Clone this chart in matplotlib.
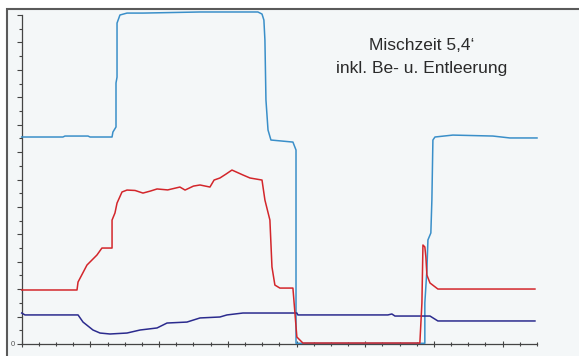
import matplotlib
matplotlib.use("Agg")
import matplotlib.pyplot as plt
from matplotlib.patches import Rectangle

plt.rcParams['font.family'] = ['Liberation Sans', 'DejaVu Sans']

# Time axis (minutes) and measured curves
leistung_t = [0.00, 2.40, 2.52, 3.86, 3.98, 5.26, 5.31, 5.49, 5.49, 5.55, 5.55, 5.55,
              5.72, 6.13, 7.06, 10.38, 13.75, 13.99, 14.10, 14.16, 14.22, 14.34,
              14.51, 15.79, 15.97, 15.97, 23.47, 23.47, 23.59, 23.65, 23.82, 23.88,
              23.94, 24.06, 25.10, 27.43, 28.42, 30.00]
leistung_v = [15.10, 15.10, 15.17, 15.17, 15.10, 15.10, 15.46, 15.83, 19.04, 19.47,
              19.77, 23.41, 24.00, 24.14, 24.14, 24.22, 24.22, 24.07, 23.63, 22.17,
              17.80, 15.61, 14.88, 14.73, 14.15, 0.05, 0.05, 2.99, 5.40, 7.59, 8.10,
              10.50, 14.88, 15.10, 15.24, 15.17, 15.03, 15.03]

strom_t = [0.00, 3.22, 3.28, 3.80, 4.38, 4.67, 5.26, 5.26, 5.43, 5.55, 5.84, 6.13,
           6.60, 7.06, 7.50, 7.88, 8.50, 9.21, 9.51, 10.00, 10.38, 10.96, 11.20,
           11.54, 11.90, 12.24, 12.88, 13.29, 13.99, 14.16, 14.45, 14.57, 14.74,
           15.03, 15.79, 16.02, 16.37, 23.18, 23.30, 23.36, 23.47, 23.53, 23.59,
           23.77, 24.23, 29.88]
strom_v = [3.94, 3.94, 4.52, 5.76, 6.49, 7.00, 7.00, 9.04, 9.56, 10.28, 11.09, 11.23,
           11.20, 11.01, 11.16, 11.31, 11.24, 11.45, 11.23, 11.52, 11.60, 11.45,
           11.96, 12.11, 12.40, 12.69, 12.33, 12.11, 11.96, 10.50, 9.04, 5.62,
           4.30, 4.08, 4.08, 0.51, 0.07, 0.07, 2.99, 7.22, 7.08, 6.35, 5.03, 4.45,
           4.01, 4.01]

temp_t = [0.00, 0.19, 3.28, 3.57, 4.15, 4.56, 5.14, 6.13, 6.89, 7.88, 8.46, 9.62,
          10.38, 11.54, 11.95, 12.88, 16.02, 16.08, 21.32, 21.55, 21.73, 23.77,
          24.23, 29.88]
temp_v = [2.26, 2.12, 2.12, 1.60, 1.02, 0.80, 0.73, 0.80, 1.02, 1.17, 1.53, 1.60,
          1.90, 1.97, 2.12, 2.26, 2.26, 2.12, 2.12, 2.19, 2.04, 2.04, 1.68, 1.68]

annotation = "Mischzeit 5,4\u2018\ninkl. Be- u. Entleerung"

W, H = 579, 356
fig = plt.figure(figsize=(W / 100, H / 100), dpi=100)
fig.patch.set_facecolor('white')

# Panel background with frame on left/top
fig.patches.append(Rectangle((7 / W, -0.01), 1.0, (H - 9) / H + 0.01,
                             transform=fig.transFigure, facecolor='#f4f7f8',
                             edgecolor='#5a5a5a', linewidth=1.5, zorder=-5))

x0, x1 = 21.7, 537.0
y0, y1 = 344.0, 15.0
ax = fig.add_axes([x0 / W, (H - y0) / H, (x1 - x0) / W, (y0 - y1) / H])
ax.set_zorder(2)
ax.set_facecolor('none')
ax.set_xlim(0, 30)
ax.set_ylim(0, 24)

ax.plot(leistung_t, leistung_v, color='#3a8fc9', lw=1.1, clip_on=False, zorder=3)
ax.plot(temp_t, temp_v, color='#2b2b8e', lw=1.1, clip_on=False, zorder=4)
ax.plot(strom_t, strom_v, color='#d3262b', lw=1.1, clip_on=False, zorder=5)

for s in ('top', 'right'):
    ax.spines[s].set_visible(False)
for s in ('left', 'bottom'):
    ax.spines[s].set_color('#444444')
    ax.spines[s].set_linewidth(0.9)

ax.set_xticks(range(0, 31, 4))
ax.set_xticks(range(0, 31), minor=True)
ax.set_yticks(range(0, 25, 2))
ax.set_yticks(range(0, 25), minor=True)
ax.tick_params(axis='both', which='both', colors='#444444', labelleft=False,
               labelbottom=False, width=0.8)
ax.tick_params(axis='x', which='major', direction='inout', length=5)
ax.tick_params(axis='x', which='minor', direction='inout', length=3)
ax.tick_params(axis='y', which='major', direction='out', length=3.5)
ax.tick_params(axis='y', which='minor', direction='out', length=2)

fig.text(13 / W, (H - 344) / H, "0", fontsize=5.5, color='#555555',
         ha='center', va='center', zorder=3)

fig.text(422 / W, (H - 57) / H, annotation, fontsize=12.5, color='#2a2a2a',
         ha='center', va='center', linespacing=1.75, zorder=3)

fig.savefig("out.png", dpi=100)
